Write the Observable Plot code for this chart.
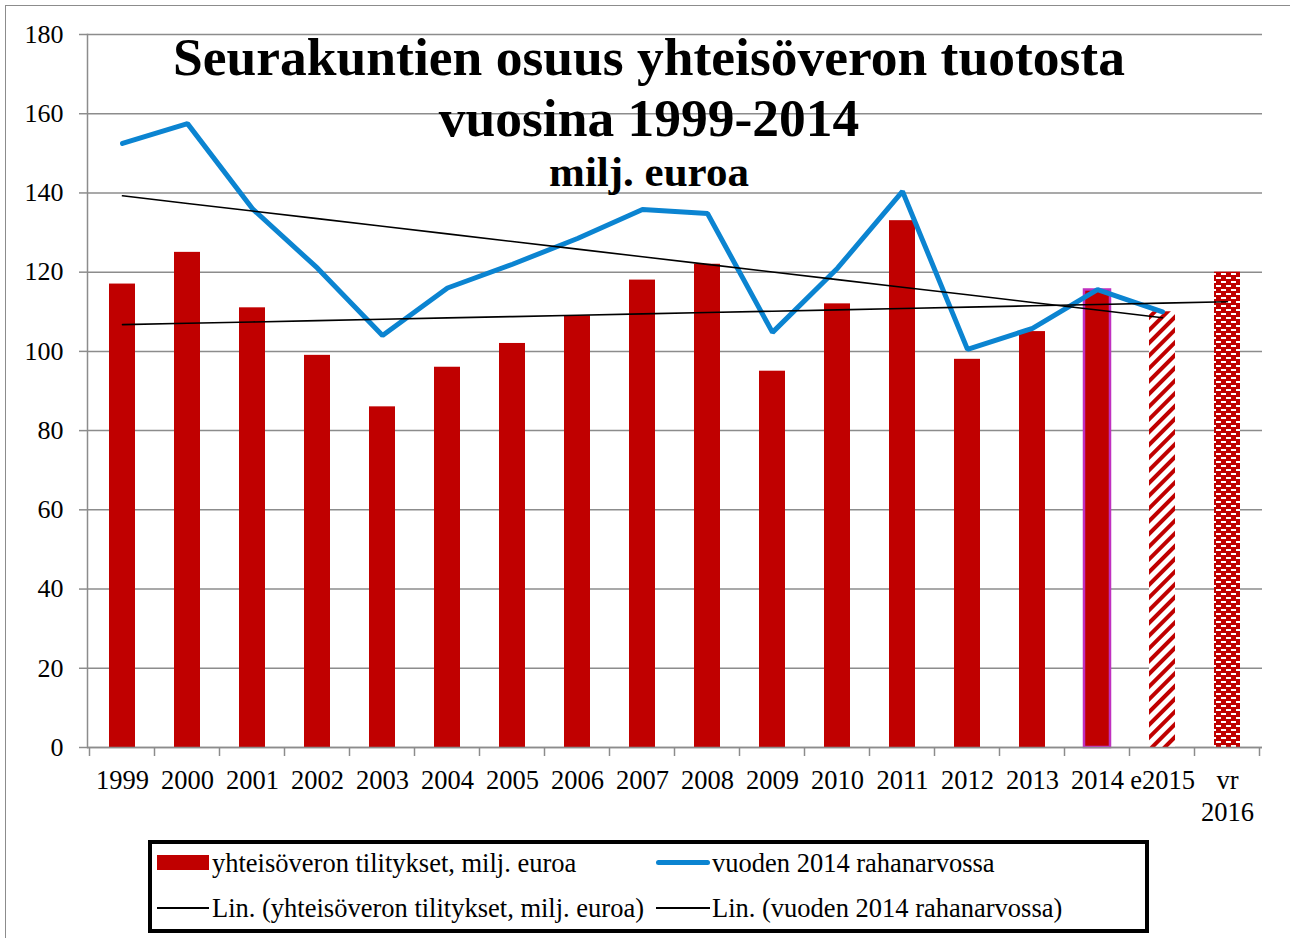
<!DOCTYPE html>
<html>
<head>
<meta charset="utf-8">
<script src="https://cdn.jsdelivr.net/npm/d3@7"></script>
<script src="https://cdn.jsdelivr.net/npm/@observablehq/plot@0.6"></script>
<style>
  html, body { margin: 0; padding: 0; background: #fff; }
  #wrap { position: relative; width: 1290px; height: 938px; overflow: hidden; font-family: "Liberation Serif", "Times New Roman", serif; }
  #frame { position: absolute; left: 5px; top: 5px; width: 1400px; height: 1100px; border: 1.5px solid #8c8c8c; box-sizing: border-box; }
  #chart { position: absolute; left: 0; top: 0; }
  #legend { position: absolute; left: 148px; top: 840px; width: 1001px; height: 93px; border: 4px solid #000; box-sizing: border-box; background: #fff; }
  .li { position: absolute; font-size: 26.5px; line-height: 26px; white-space: nowrap; color: #000; }
  .sw { position: absolute; }
</style>
</head>
<body>
<div id="wrap">
  <div id="frame"></div>
  <div id="chart"></div>
  <div id="legend">
    <div class="sw" style="left:5px; top:11px; width:52px; height:15px; background:#C00000;"></div>
    <div class="li" style="left:60px; top:6px;">yhteisöveron tilitykset, milj. euroa</div>
    <div class="sw" style="left:504px; top:16px; width:54px; height:5px; background:#0B84D1; border-radius:3px;"></div>
    <div class="li" style="left:560px; top:6px;">vuoden 2014 rahanarvossa</div>
    <div class="sw" style="left:5px; top:63px; width:52px; height:2px; background:#000;"></div>
    <div class="li" style="left:60px; top:51px;">Lin. (yhteisöveron tilitykset, milj. euroa)</div>
    <div class="sw" style="left:504px; top:63px; width:54px; height:2px; background:#000;"></div>
    <div class="li" style="left:560px; top:51px;">Lin. (vuoden 2014 rahanarvossa)</div>
  </div>
</div>
<script>
// ---- data ----
const years = ["1999","2000","2001","2002","2003","2004","2005","2006","2007","2008","2009","2010","2011","2012","2013","2014","e2015","vr 2016"];
const tilitykset = [117,125,111,99,86,96,102,109,118,122,95,112,133,98,105,115.5,110,120];
const rahanarvo = [152.5,157.5,136,121,104,116,122,128.5,135.8,134.8,104.8,121,140.4,100.5,105.8,115.6,110];
const yTicks = [0,20,40,60,80,100,120,140,160,180];
const titleLines = ["Seurakuntien osuus yhteisöveron tuotosta", "vuosina 1999-2014", "milj. euroa"];

// linear trend (least squares) of a series over its index
function trend(vals) {
  const mx = d3.mean(vals, (d, i) => i), my = d3.mean(vals);
  let sxy = 0, sxx = 0;
  vals.forEach((v, i) => { sxy += (i - mx) * (v - my); sxx += (i - mx) * (i - mx); });
  const b = sxy / sxx, a = my - b * mx;
  return vals.map((v, i) => a + b * i);
}

const bars = years.map((y, i) => ({year: y, value: tilitykset[i]}));
const line = rahanarvo.map((v, i) => ({year: years[i], value: v}));
const trendBars = trend(tilitykset).map((v, i) => ({year: years[i], value: v}));
const trendLine = trend(rahanarvo).map((v, i) => ({year: years[i], value: v}));

const RED = "#C00000";
const GRID = "#8c8c8c";
const PAD_IN = 0.6, PAD_OUT = 0.3;

// boundary tick marks between categories (Excel style)
function boundaryTicks(index, scales, values, dimensions) {
  const sx = scales.scales && scales.scales.x;
  const bw = sx ? sx.bandwidth : 0;
  const step = sx ? sx.step : 0;
  const g = d3.create("svg:g");
  const y0 = dimensions.height - dimensions.marginBottom;
  const starts = years.map(d => scales.x(d));
  const bounds = starts.map(s => s - (step - bw) / 2);
  bounds.push(starts[starts.length - 1] + bw + (step - bw) / 2);
  bounds.forEach(b => {
    g.append("line").attr("x1", b).attr("x2", b).attr("y1", y0).attr("y2", y0 + 9)
      .attr("stroke", GRID).attr("stroke-width", 1.5);
  });
  return g.node();
}

const plot = Plot.plot({
  width: 1290,
  height: 835,
  marginLeft: 87,
  marginRight: 28,
  marginTop: 34,
  marginBottom: 88,
  style: {fontFamily: "'Liberation Serif', 'Times New Roman', serif", fontSize: "26px", color: "#000", background: "transparent", overflow: "visible"},
  x: {type: "band", domain: years, paddingInner: PAD_IN, paddingOuter: PAD_OUT, label: null},
  y: {domain: [0, 180], label: null},
  marks: [
    Plot.gridY(yTicks, {stroke: GRID, strokeOpacity: 1, strokeWidth: 1.5}),
    Plot.frame({anchor: "left", stroke: GRID, strokeWidth: 1.5}),
    Plot.axisY(yTicks, {tickSize: 8, tickPadding: 16, stroke: GRID, strokeWidth: 1.5, fontSize: 26, fill: "#000", tickFormat: d => String(d)}),
    Plot.axisX({tickSize: 0, tickPadding: 19, fontSize: 26.5, lineHeight: 1.2, fill: "#000", lineAnchor: "top", tickFormat: d => d.replace(" ", "\n")}),
    Plot.barY(bars.slice(0, 15), {x: "year", y: "value", fill: RED}),
    Plot.barY(bars.slice(15, 16), {x: "year", y: "value", fill: RED, stroke: "#C030C0", strokeWidth: 2.5}),
    Plot.barY(bars.slice(16, 17), {x: "year", y: "value", fill: "url(#hatchDiag)"}),
    Plot.barY(bars.slice(17, 18), {x: "year", y: "value", fill: "url(#hatchBrick)"}),
    Plot.ruleY([0], {stroke: GRID, strokeWidth: 1.5}),
    boundaryTicks,
    Plot.line(line, {x: "year", y: "value", stroke: "#0B84D1", strokeWidth: 5, strokeLinejoin: "miter", strokeLinecap: "round"}),
    Plot.line(trendBars, {x: "year", y: "value", stroke: "#000", strokeWidth: 1.6}),
    Plot.line(trendLine, {x: "year", y: "value", stroke: "#000", strokeWidth: 1.6}),
    Plot.text([titleLines[0]], {frameAnchor: "top", lineAnchor: "bottom", dx: -26, dy: 40, fontSize: 53.5, fontWeight: "bold", fill: "#000"}),
    Plot.text([titleLines[1]], {frameAnchor: "top", lineAnchor: "bottom", dx: -26, dy: 101, fontSize: 53.5, fontWeight: "bold", fill: "#000"}),
    Plot.text([titleLines[2]], {frameAnchor: "top", lineAnchor: "bottom", dx: -26, dy: 151, fontSize: 43, fontWeight: "bold", fill: "#000"})
  ]
});

// patterns for the estimate / budget bars
const defs = d3.select(plot).insert("defs", ":first-child");
const p1 = defs.append("pattern").attr("id", "hatchDiag").attr("patternUnits", "userSpaceOnUse")
  .attr("width", 9).attr("height", 9).attr("patternTransform", "rotate(45)");
p1.append("rect").attr("width", 9).attr("height", 9).attr("fill", "#fff");
p1.append("rect").attr("x", 0).attr("width", 4).attr("height", 9).attr("fill", RED);
const p2 = defs.append("pattern").attr("id", "hatchBrick").attr("patternUnits", "userSpaceOnUse")
  .attr("width", 10).attr("height", 8);
p2.append("rect").attr("width", 10).attr("height", 8).attr("fill", RED);
p2.append("rect").attr("x", 1).attr("y", 1).attr("width", 5).attr("height", 2).attr("fill", "#fff");
p2.append("rect").attr("x", 6).attr("y", 5).attr("width", 5).attr("height", 2).attr("fill", "#fff");
p2.append("rect").attr("x", -4).attr("y", 5).attr("width", 5).attr("height", 2).attr("fill", "#fff");

document.getElementById("chart").appendChild(plot);
</script>
</body>
</html>
